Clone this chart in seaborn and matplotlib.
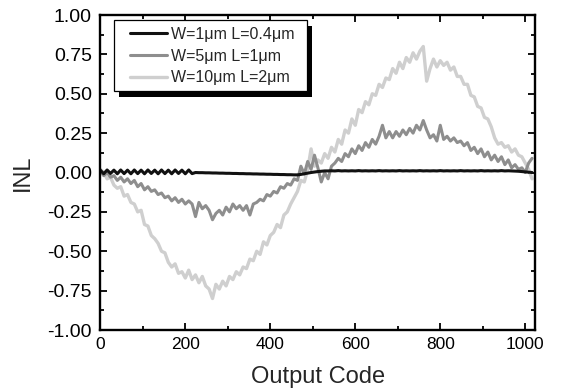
import numpy as np
import pandas as pd
import seaborn as sns
import matplotlib.pyplot as plt
from matplotlib.patches import Rectangle
from matplotlib.ticker import MultipleLocator

# output codes, sampled every 8 codes
codes = np.arange(0, 1024, 8)

# W=1um L=0.4um
inl_w1 = [0.015, -0.008, 0.016, -0.006, 0.015, -0.008, 0.016, -0.007, 0.015, -0.008,
          0.016, -0.007, 0.015, -0.008, 0.016, -0.006, 0.015, -0.008, 0.016, -0.007,
          0.015, -0.008, 0.016, -0.006, 0.015, -0.008, 0.016, -0.007,
          0.0, -0.001, -0.001, -0.002, -0.002, -0.003, -0.003, -0.004, -0.004, -0.005,
          -0.005, -0.006, -0.006, -0.007, -0.007, -0.008, -0.008, -0.009, -0.009, -0.010,
          -0.010, -0.011, -0.011, -0.012, -0.012, -0.013, -0.013, -0.014, -0.014, -0.015,
          -0.015,
          -0.012, -0.008, -0.004, 0.0, 0.003, 0.006, 0.008, 0.010, 0.010, 0.011,
          0.010, 0.012, 0.010, 0.011, 0.010, 0.011, 0.010, 0.012, 0.010, 0.011,
          0.010, 0.011, 0.010, 0.012, 0.010, 0.011, 0.010, 0.011, 0.010, 0.012,
          0.010, 0.011, 0.010, 0.011, 0.010, 0.012, 0.010, 0.011, 0.010, 0.011,
          0.010, 0.012, 0.010, 0.011, 0.010, 0.011, 0.010, 0.012, 0.010, 0.011,
          0.010, 0.011, 0.010, 0.012, 0.010, 0.011, 0.010, 0.011, 0.010, 0.012,
          0.010, 0.011, 0.010, 0.009, 0.008, 0.006, 0.004, 0.002, 0.0]

# W=5um L=1um
inl_w5 = [0.01, -0.02, 0.0, -0.03, -0.02, -0.05, -0.03, -0.06, -0.04, -0.07,
          -0.05, -0.09, -0.07, -0.11, -0.09, -0.12, -0.11, -0.14, -0.13, -0.16,
          -0.15, -0.18, -0.16, -0.19, -0.17, -0.20, -0.18, -0.20, -0.28, -0.19,
          -0.23, -0.21, -0.24, -0.30, -0.26, -0.24, -0.27, -0.22, -0.25, -0.20,
          -0.23, -0.21, -0.24, -0.21, -0.27, -0.20, -0.19, -0.17, -0.18, -0.14,
          -0.15, -0.12, -0.13, -0.09, -0.10, -0.07, -0.08, -0.04, -0.05, 0.04,
          -0.01, 0.07, 0.02, 0.11, 0.03, -0.06, 0.0, -0.04, 0.04, 0.06,
          0.09, 0.07, 0.12, 0.10, 0.15, 0.12, 0.17, 0.14, 0.19, 0.16,
          0.21, 0.18, 0.23, 0.30, 0.22, 0.26, 0.22, 0.26, 0.23, 0.27,
          0.24, 0.28, 0.25, 0.30, 0.27, 0.33, 0.27, 0.22, 0.24, 0.20,
          0.30, 0.21, 0.23, 0.20, 0.22, 0.19, 0.20, 0.17, 0.19, 0.14,
          0.16, 0.12, 0.15, 0.10, 0.13, 0.08, 0.11, 0.07, 0.10, 0.05,
          0.08, 0.03, 0.05, 0.02, 0.03, 0.0, 0.06, 0.09]

# W=10um L=2um
inl_w10 = [0.02, 0.0, -0.04, -0.03, -0.08, -0.10, -0.09, -0.15, -0.14, -0.19,
           -0.20, -0.25, -0.24, -0.33, -0.34, -0.40, -0.42, -0.45, -0.50, -0.51,
           -0.57, -0.60, -0.58, -0.64, -0.63, -0.67, -0.62, -0.68, -0.65, -0.70,
           -0.66, -0.72, -0.74, -0.80, -0.71, -0.74, -0.69, -0.72, -0.66, -0.68,
           -0.63, -0.65, -0.60, -0.61, -0.55, -0.56, -0.50, -0.52, -0.44, -0.46,
           -0.40, -0.38, -0.33, -0.35, -0.27, -0.25, -0.20, -0.16, -0.12, -0.05,
           -0.06, 0.02, 0.15, 0.04, 0.08, 0.06, 0.12, 0.09, 0.16, 0.13,
           0.21, 0.18, 0.27, 0.25, 0.34, 0.30, 0.40, 0.38, 0.45, 0.43,
           0.50, 0.49, 0.56, 0.54, 0.60, 0.59, 0.66, 0.63, 0.70, 0.66,
           0.73, 0.70, 0.76, 0.72, 0.77, 0.80, 0.58, 0.66, 0.72, 0.67,
           0.71, 0.68, 0.70, 0.65, 0.67, 0.61, 0.61, 0.56, 0.56, 0.49,
           0.48, 0.42, 0.41, 0.35, 0.34, 0.29, 0.22, 0.18, 0.19, 0.16,
           0.17, 0.13, 0.15, 0.11, 0.10, 0.06, 0.02, -0.04]

labels = ["W=1\u03bcm L=0.4\u03bcm", "W=5\u03bcm L=1\u03bcm", "W=10\u03bcm L=2\u03bcm"]
colors = ["#111111", "#8e8e8e", "#cfcfcf"]
widths = [2.2, 2.2, 2.4]

sns.set_style("ticks")
plt.rcParams['font.family'] = ['Liberation Sans', 'DejaVu Sans']

fig = plt.figure(figsize=(5.62, 3.91), dpi=100)
ax = fig.add_axes([0.1785, 0.156, 0.7735, 0.8056])

# draw light series first so the black one sits on top
series = [inl_w1, inl_w5, inl_w10]
for i in [2, 1, 0]:
    sns.lineplot(x=codes, y=series[i], color=colors[i], lw=widths[i], label=labels[i], ax=ax)

ax.set_xlim(0, 1023)
ax.set_ylim(-1.0, 1.0)
ax.xaxis.set_major_locator(MultipleLocator(200))
ax.xaxis.set_minor_locator(MultipleLocator(100))
ax.yaxis.set_major_locator(MultipleLocator(0.25))
ax.yaxis.set_minor_locator(MultipleLocator(0.125))
ax.yaxis.set_major_formatter(plt.FormatStrFormatter('%.2f'))
ax.tick_params(which='both', direction='in', top=True, right=True, width=1.3, colors='black')
ax.tick_params(which='major', length=5)
ax.tick_params(which='minor', length=3)
ax.tick_params(axis='x', labelsize=12.5, pad=5)
ax.tick_params(axis='y', labelsize=14, pad=6)
for s in ax.spines.values():
    s.set_linewidth(1.7)
    s.set_color('black')

ax.set_xlabel("Output Code", fontsize=17, labelpad=10)
ax.set_ylabel("INL", fontsize=17, labelpad=10)

handles, labs = ax.get_legend_handles_labels()
order = [labs.index(l) for l in labels]
leg = ax.legend([handles[k] for k in order], labels, loc='upper left',
                bbox_to_anchor=(0.068, 0.962), borderaxespad=0, borderpad=0,
                fontsize=11.5, frameon=False, handlelength=2.3,
                handletextpad=0.25, labelspacing=0.42)
leg.set_zorder(5)

# legend box with a hard black drop shadow
ax.add_patch(Rectangle((0.0315 + 0.0115, 0.759 - 0.019), 0.444, 0.225, transform=ax.transAxes,
                       facecolor='black', edgecolor='none', zorder=4.8, clip_on=False))
ax.add_patch(Rectangle((0.0315, 0.759), 0.444, 0.225, transform=ax.transAxes,
                       facecolor='white', edgecolor='black', lw=0.9, zorder=4.9, clip_on=False))

plt.savefig("out.png", dpi=100, facecolor='w')
